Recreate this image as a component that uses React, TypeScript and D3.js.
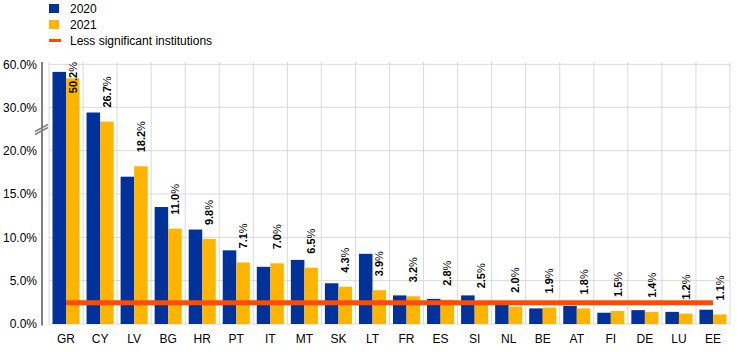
import React from "react";
import * as d3 from "d3";

const categories = ["GR", "CY", "LV", "BG", "HR", "PT", "IT", "MT", "SK", "LT", "FR", "ES", "SI", "NL", "BE", "AT", "FI", "DE", "LU", "EE"];
const series = ["2020", "2021"];
const values2020 = [54.7, 28.8, 17.0, 13.5, 10.9, 8.5, 6.6, 7.4, 4.7, 8.1, 3.3, 2.9, 3.3, 2.4, 1.8, 2.1, 1.3, 1.6, 1.4, 1.65];
const values2021 = [50.2, 26.7, 18.2, 11.0, 9.8, 7.1, 7.0, 6.5, 4.3, 3.9, 3.2, 2.8, 2.5, 2.0, 1.9, 1.8, 1.5, 1.4, 1.2, 1.1];
const lsiLevel = 2.45;
const yTicks = [0, 5, 10, 15, 20, 30, 60];

const colors = { "2020": "#003299", "2021": "#ffb400", lsi: "#ff4b00" };
const font = "'Liberation Sans', Arial, sans-serif";

const width = 744;
const height = 352;
const left = 49;
const right = 730;
const top = 62;
const bottom = 324;

export default function App() {
  // broken axis: 0-20 linear, then 20-30 and 30-60 squeezed
  const y = d3.scaleLinear().domain([0, 20, 30, 60]).range([bottom, 150.7, 107.3, 64.3]);
  const x = d3.scaleBand().domain(categories).range([left, right]);
  const bw = x.bandwidth();
  const xs = d3.scaleBand().domain(series).range([3.5, bw - 3.5]);

  const data = categories.map((c, i) => ({ c, v: { "2020": values2020[i], "2021": values2021[i] } }));
  const breakY = (y(20) + y(30)) / 2;

  return (
    <svg width={width} height={height} style={{ position: "absolute", left: 0, top: 0, display: "block" }} fontFamily={font}>
      <rect width={width} height={height} fill="#fff" />

      {/* grid */}
      {yTicks.map((t) => (
        <line key={"h" + t} x1={left} x2={right} y1={y(t)} y2={y(t)} stroke="#d9d9d9" strokeWidth={1} />
      ))}
      {categories.map((c) => (
        <line key={"v" + c} x1={x(c)} x2={x(c)} y1={top} y2={bottom} stroke="#d9d9d9" strokeWidth={1} />
      ))}
      <line x1={right} x2={right} y1={top} y2={bottom} stroke="#d9d9d9" strokeWidth={1} />

      {/* bars */}
      {data.map((d) =>
        series.map((s) => (
          <rect
            key={d.c + s}
            x={x(d.c)! + xs(s)!}
            width={xs.bandwidth()}
            y={y(d.v[s])}
            height={bottom - y(d.v[s])}
            fill={colors[s]}
          />
        ))
      )}

      {/* LSI line */}
      <line
        x1={x(categories[0])! + bw / 2}
        x2={x(categories[categories.length - 1])! + bw / 2}
        y1={y(lsiLevel)}
        y2={y(lsiLevel)}
        stroke={colors.lsi}
        strokeWidth={5}
      />

      {/* value labels for 2021 */}
      {data.map((d) => {
        const cx = x(d.c)! + xs("2021")! + xs.bandwidth() / 2;
        const start = y(d.v["2021"]) - 14;
        const clamp = start - 34 < top;
        const ly = clamp ? top : start;
        return (
          <text
            key={"l" + d.c}
            transform={`translate(${cx},${ly}) rotate(-90)`}
            textAnchor={clamp ? "end" : "start"}
            dominantBaseline="central"
            fontSize={11}
            fontWeight="bold"
            fill="#000"
          >
            {d.v["2021"].toFixed(1)}
            <tspan fontWeight="normal">%</tspan>
          </text>
        );
      })}

      {/* y axis */}
      <line x1={42} x2={42} y1={top} y2={bottom + 1.5} stroke="#808080" strokeWidth={2} />
      {yTicks.map((t) => (
        <text key={"yt" + t} x={37} y={y(t)} dy="0.35em" textAnchor="end" fontSize={12} fill="#000">
          {t.toFixed(1)}%
        </text>
      ))}
      {/* break marker */}
      <g stroke="#808080" strokeWidth={1.5}>
        <line x1={35} y1={breakY + 2.5} x2={48} y2={breakY - 4.5} />
        <line x1={35} y1={breakY + 5.5} x2={48} y2={breakY - 1.5} />
      </g>

      {/* x labels */}
      {categories.map((c) => (
        <text key={"xt" + c} x={x(c)! + bw / 2} y={343} textAnchor="middle" fontSize={12} fill="#000">
          {c}
        </text>
      ))}

      {/* legend */}
      <rect x={49} y={4} width={10} height={9} fill={colors["2020"]} />
      <text x={70} y={12.5} fontSize={12} fill="#000">2020</text>
      <rect x={49} y={20} width={10} height={9} fill={colors["2021"]} />
      <text x={70} y={29} fontSize={12} fill="#000">2021</text>
      <line x1={49} x2={61} y1={40.5} y2={40.5} stroke={colors.lsi} strokeWidth={3} />
      <text x={70} y={45} fontSize={12} fill="#000">Less significant institutions</text>
    </svg>
  );
}
